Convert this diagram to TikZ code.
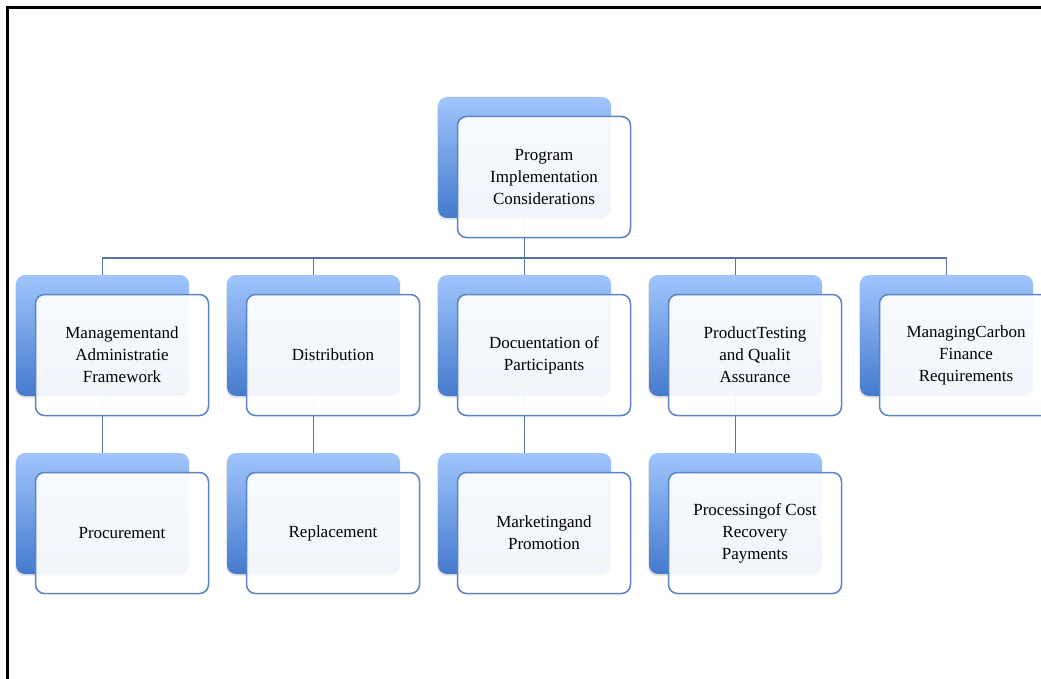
\documentclass[tikz,border=0pt]{standalone}
\usepackage{fontspec}
\setmainfont{Liberation Serif}
\usetikzlibrary{positioning,shadows,backgrounds}
\definecolor{boxtop}{RGB}{160,197,252}
\definecolor{boxbottom}{RGB}{68,122,205}
\definecolor{boxline}{RGB}{88,132,198}
\definecolor{linkblue}{RGB}{82,116,160}

\tikzset{
  backbox/.style={rectangle, rounded corners=9pt, minimum width=173pt, minimum height=121pt,
    inner sep=0pt, top color=boxtop, bottom color=boxbottom,
    drop shadow={opacity=0.2, shadow xshift=-1pt, shadow yshift=-2pt}},
  frontbox/.style={rectangle, rounded corners=9pt, draw=boxline, line width=1.5pt,
    fill=white, fill opacity=0.93, text opacity=1,
    minimum width=173pt, minimum height=121pt, inner sep=0pt, align=center,
    font=\fontsize{17}{22}\selectfont},
  link/.style={draw=linkblue, line width=1.4pt}
}

\begin{document}
\begin{tikzpicture}[x=1pt,y=-1pt]
\clip (0,0) rectangle (1041,679);

% Frame (left and top edges)
\draw[line width=3pt] (7.5,679) -- (7.5,7.5) -- (1041,7.5);

% Top box
\node[backbox] (prog-b) at (524.5,157.5) {};
\node[frontbox] (prog) at (544,177) {Program\\Implementation\\Considerations};

% Second row (column spacing 211)
\foreach \col/\nm/\txt in {0/mgmt/{Managementand\\Administratie\\Framework},
    1/dist/{Distribution}, 2/docu/{Docuentation of\\Participants},
    3/test/{ProductTesting\\and Qualit\\Assurance}, 4/carbon/{ManagingCarbon\\Finance\\Requirements}}{
  \node[backbox] (\nm-b) at ({102.5+211*\col},335.5) {};
  \node[frontbox] (\nm) at ({122+211*\col},355) {\txt};
}

% Third row
\foreach \col/\nm/\txt in {0/proc/{Procurement}, 1/repl/{Replacement},
    2/mark/{Marketingand\\Promotion}, 3/pay/{Processingof Cost\\Recovery\\Payments}}{
  \node[backbox] (\nm-b) at ({102.5+211*\col},513.5) {};
  \node[frontbox] (\nm) at ({122+211*\col},533) {\txt};
}

% Connectors
\coordinate (bus) at (524.5,258);
\begin{scope}[on background layer]
\draw[link] (prog-b.south) -- (bus);
\foreach \nm in {mgmt,dist,docu,test,carbon}
  \draw[link] (bus) -| (\nm-b.north);
\draw[link] (mgmt-b.south) -- (proc-b.north);
\draw[link] (dist-b.south) -- (repl-b.north);
\draw[link] (docu-b.south) -- (mark-b.north);
\draw[link] (test-b.south) -- (pay-b.north);
\end{scope}
\end{tikzpicture}
\end{document}
